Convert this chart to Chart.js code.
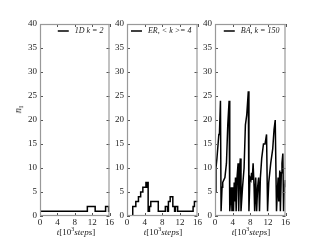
<!DOCTYPE html>
<html>
<head>
<meta charset="utf-8">
<script src="https://cdn.jsdelivr.net/npm/chart.js@4/dist/chart.umd.min.js"></script>
<style>
  body { margin: 0; width: 320px; height: 240px; background: #fff; position: relative; overflow: hidden; font-family: "Liberation Serif", serif; color: #222; }
  canvas { position: absolute; top: 0; }
  .xt { position: absolute; top: 226px; width: 80px; text-align: center; font-size: 9px; line-height: 12px; }
  .xt sup { font-size: 6px; vertical-align: 4px; line-height: 0; }
  .yt { position: absolute; left: 14px; top: 104px; font-size: 10px; transform: rotate(-90deg); }
  .yt sub { font-size: 7px; vertical-align: -2px; line-height: 0; }
</style>
</head>
<body>
<canvas id="c1" width="115" height="240" style="left:0px"></canvas>
<canvas id="c2" width="103" height="240" style="left:100px"></canvas>
<canvas id="c3" width="103" height="240" style="left:188px"></canvas>
<div class="yt"><i>n</i><sub>I</sub></div>
<div class="xt" style="left:36px"><i>t</i>[10<sup>3</sup><i>steps</i>]</div>
<div class="xt" style="left:123px"><i>t</i>[10<sup>3</sup><i>steps</i>]</div>
<div class="xt" style="left:211px"><i>t</i>[10<sup>3</sup><i>steps</i>]</div>
<script>
// time axis in 10^3 steps, n = number infected
var xTicks = [0, 4, 8, 12, 16];
var yTicks = [0, 5, 10, 15, 20, 25, 30, 35, 40];

// 1D lattice, k = 2 (step changes)
var t1 = [0, 10.9, 12.7, 15.1, 15.8, 16];
var n1 = [1, 2, 1, 2, 1, 1];

// ER, <k> = 4 (step changes)
var t2 = [0, 1.3, 2.0, 2.6, 3.1, 3.6, 4.3, 4.4, 4.5, 4.8, 5.1, 5.4, 7.1, 8.7, 9.2, 9.4, 9.8, 10.4, 10.8, 11.0, 11.5, 15.0, 15.3, 16];
var n2 = [0, 2, 3, 4, 5, 6, 7, 6, 7, 1, 2, 3, 1, 2, 1, 3, 4, 2, 1, 2, 1, 2, 3, 3];

// BA, k = 150
var t3 = [0, 0.22, 0.44, 0.87, 1.0, 1.24, 1.38, 1.6, 1.75, 2.25, 2.6, 2.9, 3.2, 3.35, 3.5, 3.7, 3.85, 4.07, 4.2, 4.36, 4.5, 4.65, 4.8, 5.0, 5.24, 5.38, 5.6, 5.75, 5.9, 6.25, 6.6, 6.9, 7.2, 7.56, 7.7, 7.93, 8.15, 8.3, 8.44, 8.65, 8.87, 9.0, 9.24, 9.45, 9.67, 9.9, 10.1, 10.3, 10.6, 11.0, 11.35, 11.7, 11.93, 12.2, 12.65, 13.1, 13.4, 13.67, 13.8, 13.96, 14.2, 14.33, 14.47, 14.7, 14.84, 15.05, 15.2, 15.4, 15.56, 15.78, 15.93, 16];
var n3 = [5, 10, 12, 17, 17, 24, 1, 6, 7, 8, 11, 19, 24, 1, 3, 6, 1, 6, 1, 7, 3, 8, 1, 8, 11, 1, 10, 12, 1, 6, 10, 19, 21, 26, 1, 8, 7.5, 9, 7.5, 11, 6, 1, 8, 1, 6, 8, 1, 8, 12, 15, 15, 17, 1, 7, 11, 14, 18, 20, 20, 1, 6, 8, 3, 9.5, 1, 9, 11, 13, 1, 6, 7.5, 6];

function pts(t, n) {
  var out = [];
  for (var i = 0; i < t.length; i++) out.push({ x: t[i], y: n[i] });
  return out;
}

var frame = {
  id: "frame",
  afterDatasetsDraw: function (chart) {
    var ctx = chart.ctx, a = chart.chartArea, sx = chart.scales.x, sy = chart.scales.y;
    ctx.save();
    // inward ticks
    ctx.strokeStyle = "#555";
    ctx.lineWidth = 1;
    ctx.beginPath();
    yTicks.forEach(function (v) {
      var y = Math.round(sy.getPixelForValue(v)) + 0.5;
      ctx.moveTo(a.left, y); ctx.lineTo(a.left + 3, y);
      ctx.moveTo(a.right - 3, y); ctx.lineTo(a.right, y);
    });
    xTicks.forEach(function (v) {
      var x = Math.round(sx.getPixelForValue(v)) + 0.5;
      ctx.moveTo(x, a.bottom); ctx.lineTo(x, a.bottom - 3);
      ctx.moveTo(x, a.top); ctx.lineTo(x, a.top + 3);
    });
    ctx.stroke();
    // frame
    ctx.strokeStyle = "#999";
    ctx.lineWidth = 1.2;
    ctx.strokeRect(a.left + 0.5, a.top + 0.5, a.width - 1, a.height - 1);
    // legend
    var ds = chart.data.datasets[0];
    ctx.font = "italic 8px 'Liberation Serif', serif";
    ctx.fillStyle = "#222";
    ctx.textBaseline = "middle";
    var w = ctx.measureText(ds.label).width;
    var tx = a.right - 6 - w, ly = a.top + 7;
    ctx.fillText(ds.label, tx, ly);
    ctx.strokeStyle = "#000";
    ctx.lineWidth = 1.5;
    ctx.beginPath();
    ctx.moveTo(tx - 17, ly); ctx.lineTo(tx - 6, ly);
    ctx.stroke();
    ctx.restore();
  }
};

function makeChart(id, label, data, stepped, yWidth) {
  return new Chart(document.getElementById(id).getContext("2d"), {
    type: "line",
    data: {
      datasets: [{
        label: label,
        data: data,
        borderColor: "#000",
        borderWidth: 1.5,
        pointRadius: 0,
        fill: false,
        stepped: stepped,
        tension: 0
      }]
    },
    options: {
      responsive: false,
      animation: false,
      devicePixelRatio: 1,
      layout: { padding: { top: 24, right: 3, left: 0, bottom: 0 } },
      plugins: { legend: { display: false }, tooltip: { enabled: false } },
      scales: {
        x: {
          type: "linear", min: 0, max: 16,
          grid: { display: false, drawTicks: false }, border: { display: false },
          ticks: { stepSize: 4, padding: 1, color: "#222", maxRotation: 0,
                   font: { family: "'Liberation Serif', serif", size: 9 } },
          afterFit: function (s) { s.height = 24; }
        },
        y: {
          min: 0, max: 40,
          grid: { display: false, drawTicks: false }, border: { display: false },
          ticks: { stepSize: 5, padding: 3, color: "#222",
                   font: { family: "'Liberation Serif', serif", size: 9 } },
          afterFit: function (s) { s.width = yWidth; }
        }
      }
    },
    plugins: [frame]
  });
}

makeChart("c1", "1D k = 2", pts(t1, n1), "before", 40);
makeChart("c2", "ER, < k >= 4", pts(t2, n2), "before", 27);
makeChart("c3", "BA, k = 150", pts(t3, n3), false, 27);
</script>
</body>
</html>
